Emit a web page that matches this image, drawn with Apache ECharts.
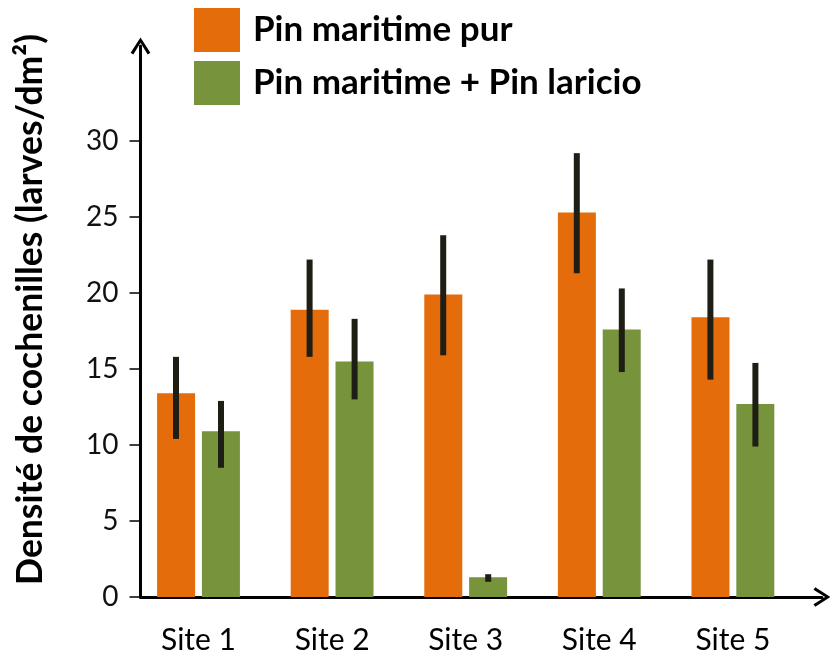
<!DOCTYPE html>
<html>
<head>
<meta charset="utf-8">
<script src="https://cdn.jsdelivr.net/npm/echarts@6/dist/echarts.min.js"></script>
<style>
html,body{margin:0;padding:0;background:#fff;}
#chart{width:830px;height:661px;}
</style>
</head>
<body>
<div id="chart"></div>
<script>
const sites = ['Site 1', 'Site 2', 'Site 3', 'Site 4', 'Site 5'];
const seriesNames = ['Pin maritime pur', 'Pin maritime + Pin laricio'];
const purMean = [13.4, 18.9, 19.9, 25.3, 18.4];
const purLow = [10.4, 15.8, 15.9, 21.3, 14.3];
const purHigh = [15.8, 22.2, 23.8, 29.2, 22.2];
const mixMean = [10.9, 15.5, 1.3, 17.6, 12.7];
const mixLow = [8.5, 13.0, 1.0, 14.8, 9.9];
const mixHigh = [12.9, 18.3, 1.5, 20.3, 15.4];
const yTicks = [0, 5, 10, 15, 20, 25, 30];

const FONT = 'Lato';
const Y_MAX = 36.25;
const chevron = 'path://M0,17 L11,0 L22,17 L19,19 L11,6 L3,19 Z';

function errData(lo, hi) {
  return sites.map((s, i) => [i, lo[i], hi[i]]);
}
function errSeries(name, lo, hi, offset) {
  return {
    type: 'custom',
    name: name + ' err',
    xAxisIndex: 0, yAxisIndex: 0,
    z: 10,
    data: errData(lo, hi),
    encode: { x: 0, y: [1, 2] },
    renderItem: function (params, api) {
      const p1 = api.coord([api.value(0), api.value(1)]);
      const p2 = api.coord([api.value(0), api.value(2)]);
      const x = p1[0] + offset;
      return {
        type: 'rect',
        shape: { x: x - 3, y: p2[1], width: 6, height: p1[1] - p2[1] },
        style: { fill: '#1f1e14' }
      };
    }
  };
}

const chart = echarts.init(document.getElementById('chart'));
chart.setOption({
  animation: false,
  textStyle: { fontFamily: FONT },
  legend: {
    orient: 'vertical',
    left: 194, top: 8, padding: 0,
    itemWidth: 46, itemHeight: 44, itemGap: 9,
    icon: 'rect',
    data: seriesNames,
    textStyle: { fontFamily: FONT, fontSize: 35, fontWeight: 'bold', color: '#000', padding: [0, 0, 0, 8] }
  },
  grid: [
    { left: 131.7, right: 30.3, top: 46, bottom: 64 },
    { left: 140.5, right: 8, top: 46, bottom: 64 }
  ],
  xAxis: [
    {
      type: 'category', gridIndex: 0, data: sites,
      axisLine: { show: false }, axisTick: { show: false },
      axisLabel: { fontFamily: FONT, fontSize: 30, color: '#000', margin: 28 }
    },
    {
      type: 'value', gridIndex: 1, min: 0, max: 1,
      axisLine: { show: true, lineStyle: { color: '#000', width: 3 }, symbol: ['none', chevron], symbolSize: [22, 17] },
      axisTick: { show: false }, axisLabel: { show: false }, splitLine: { show: false }
    }
  ],
  yAxis: [
    {
      type: 'value', gridIndex: 0, min: 0, max: Y_MAX,
      axisLine: { show: false }, axisTick: { show: false }, axisLabel: { show: false }, splitLine: { show: false }
    },
    {
      type: 'value', gridIndex: 1, min: 0, max: Y_MAX, interval: 5,
      name: 'Densité de cochenilles (larves/dm²)',
      nameLocation: 'middle', nameGap: 92,
      nameTextStyle: { fontFamily: FONT, fontSize: 35.5, fontWeight: 'bold', color: '#000', padding: [0, 0, 0, 24] },
      axisLine: { show: true, lineStyle: { color: '#000', width: 3 }, symbol: ['none', chevron], symbolSize: [22, 17] },
      axisTick: { show: true, length: 11, customValues: yTicks, lineStyle: { color: '#000', width: 1.5 } },
      axisLabel: { customValues: yTicks, fontFamily: FONT, fontSize: 28, color: '#111', margin: 22 },
      splitLine: { show: false }
    }
  ],
  series: [
    {
      type: 'bar', name: seriesNames[0], data: purMean,
      xAxisIndex: 0, yAxisIndex: 0,
      barWidth: 38, barGap: '18%',
      itemStyle: { color: '#E46C0A' }
    },
    {
      type: 'bar', name: seriesNames[1], data: mixMean,
      xAxisIndex: 0, yAxisIndex: 0,
      barWidth: 38, barGap: '18%',
      itemStyle: { color: '#77933C' }
    },
    errSeries(seriesNames[0], purLow, purHigh, -22.5),
    errSeries(seriesNames[1], mixLow, mixHigh, 22.5)
  ]
});
</script>
</body>
</html>
